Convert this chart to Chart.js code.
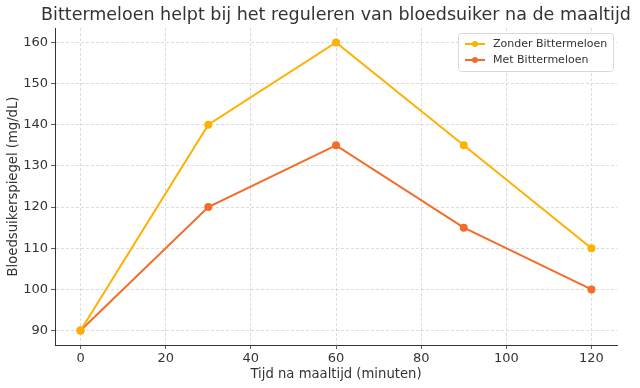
<!DOCTYPE html>
<html>
<head>
<meta charset="utf-8">
<script src="https://cdn.jsdelivr.net/npm/chart.js@4"></script>
<style>
  html, body { margin: 0; padding: 0; background: #fff; }
  #wrap { width: 640px; height: 388px; }
</style>
</head>
<body>
<div id="wrap"><canvas id="grafico" width="640" height="388"></canvas></div>
<script>
const tijden = [0, 30, 60, 90, 120];
const zonder = [90, 140, 160, 135, 110];
const met = [90, 120, 135, 115, 100];
const xTicks = [0, 20, 40, 60, 80, 100, 120];
const yTicks = [90, 100, 110, 120, 130, 140, 150, 160];
const titel = "Bittermeloen helpt bij het reguleren van bloedsuiker na de maaltijd";

const FONT = "'DejaVu Sans', sans-serif";

// titel gecentreerd boven het plotgebied
const titelPlugin = {
    id: "titelPlugin",
    afterDraw(chart) {
        const ctx = chart.ctx;
        const area = chart.chartArea;
        ctx.save();
        ctx.font = "17.5px " + FONT;
        ctx.fillStyle = "#333";
        ctx.textAlign = "center";
        ctx.textBaseline = "middle";
        ctx.fillText(titel, (area.left + area.right) / 2, 15);
        ctx.restore();
    }
};

// legenda met kader rechtsboven in het plotgebied
const legendaBox = {
    id: "legendaBox",
    afterDraw(chart) {
        const ctx = chart.ctx;
        const area = chart.chartArea;
        const w = 155, h = 38;
        const x = area.right - w - 4, y = area.top + 5;
        ctx.save();
        ctx.fillStyle = "rgba(255,255,255,0.85)";
        ctx.strokeStyle = "#d9d9d9";
        ctx.lineWidth = 1;
        ctx.beginPath();
        ctx.roundRect(x + 0.5, y + 0.5, w, h, 3);
        ctx.fill();
        ctx.stroke();
        ctx.font = "11px " + FONT;
        ctx.textBaseline = "middle";
        chart.data.datasets.forEach((ds, i) => {
            const cy = y + 11 + i * 16;
            ctx.strokeStyle = ds.borderColor;
            ctx.lineWidth = 2;
            ctx.beginPath();
            ctx.moveTo(x + 7, cy);
            ctx.lineTo(x + 27, cy);
            ctx.stroke();
            ctx.fillStyle = ds.borderColor;
            ctx.beginPath();
            ctx.arc(x + 17, cy, 3, 0, Math.PI * 2);
            ctx.fill();
            ctx.fillStyle = "#333";
            ctx.fillText(ds.label, x + 35, cy);
        });
        ctx.restore();
    }
};

new Chart(document.getElementById("grafico").getContext("2d"), {
    type: "line",
    data: {
        datasets: [{
            label: "Zonder Bittermeloen",
            data: tijden.map((t, i) => ({ x: t, y: zonder[i] })),
            borderColor: "#FFB000",
            backgroundColor: "#FFB000",
            borderWidth: 2,
            pointRadius: 3,
            pointHoverRadius: 3,
            tension: 0
        }, {
            label: "Met Bittermeloen",
            data: tijden.map((t, i) => ({ x: t, y: met[i] })),
            borderColor: "#F36D2A",
            backgroundColor: "#F36D2A",
            borderWidth: 2,
            pointRadius: 3,
            pointHoverRadius: 3,
            tension: 0
        }]
    },
    options: {
        responsive: false,
        animation: false,
        layout: { padding: { left: 0, right: 23, top: 28, bottom: 0 } },
        plugins: {
            legend: { display: false },
            tooltip: { enabled: false },
            title: { display: false }
        },
        scales: {
            x: {
                type: "linear",
                min: -6,
                max: 126,
                afterBuildTicks: s => { s.ticks = xTicks.map(v => ({ value: v })); },
                afterFit: s => { s.height = 43; },
                ticks: { color: "#333", font: { family: FONT, size: 13 }, padding: 2 },
                grid: { color: "#d3d3d3", lineWidth: 0.8, tickColor: "#333", tickLength: 4, tickBorderDash: [] },
                border: { color: "#333", width: 1, dash: [3, 2] },
                title: {
                    display: true,
                    text: "Tijd na maaltijd (minuten)",
                    color: "#333",
                    font: { family: FONT, size: 13.2 },
                    padding: { top: 2, bottom: 6 }
                }
            },
            y: {
                min: 86.5,
                max: 163.5,
                afterBuildTicks: s => { s.ticks = yTicks.map(v => ({ value: v })); },
                afterFit: s => { s.width = 55; },
                ticks: { color: "#333", font: { family: FONT, size: 13 }, padding: 3 },
                grid: { color: "#d3d3d3", lineWidth: 0.8, tickColor: "#333", tickLength: 4, tickBorderDash: [] },
                border: { color: "#333", width: 1, dash: [3, 2] },
                title: {
                    display: true,
                    text: "Bloedsuikerspiegel (mg/dL)",
                    color: "#333",
                    font: { family: FONT, size: 13.2 },
                    padding: { top: 6, bottom: 0 }
                }
            }
        }
    },
    plugins: [titelPlugin, legendaBox]
});
</script>
</body>
</html>
